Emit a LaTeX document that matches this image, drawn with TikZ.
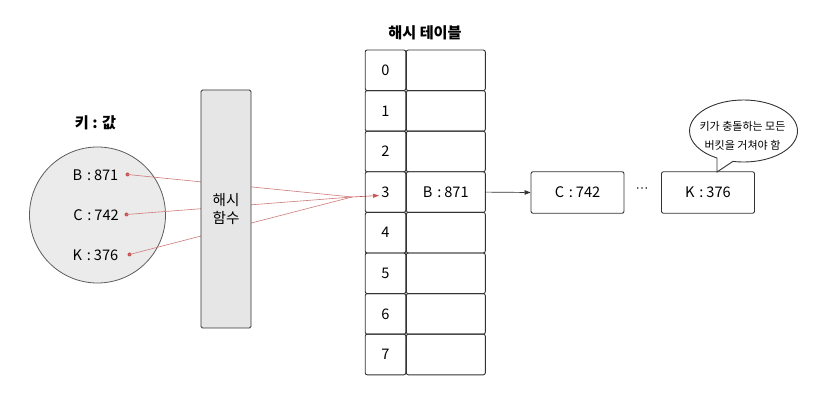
\documentclass[tikz,border=0pt]{standalone}
\usepackage{fontspec}
\setmainfont{Noto Sans CJK KR}
\newfontfamily\symfont{DejaVu Sans}
\usetikzlibrary{arrows.meta,shapes.callouts,shapes.geometric}
\definecolor{linered}{HTML}{D07A7A}
\definecolor{dotred}{HTML}{C85555}
\definecolor{boxgray}{HTML}{E6E6E6}
\definecolor{circgray}{HTML}{EBEBEB}
\definecolor{edge}{HTML}{333333}
\newcommand{\kv}[2]{#1\hspace{0.33em}:\hspace{0.2em}#2}
\tikzset{
  txt/.style={font=\fontsize{14.6}{17}\selectfont, inner sep=0pt},
  cellbox/.style={draw=edge, line width=0.9pt, rounded corners=2pt, minimum height=40.6pt, inner sep=0pt, font=\fontsize{14.6}{17}\selectfont},
  idxcell/.style={cellbox, minimum width=40.6pt},
  valcell/.style={cellbox, minimum width=79pt},
  chainbox/.style={draw=edge, line width=0.9pt, rounded corners=2pt, minimum width=93pt, minimum height=41.5pt, inner sep=0pt, font=\fontsize{14.6}{17}\selectfont},
  reddot/.style={circle, fill=dotred, inner sep=0pt, minimum size=4pt},
  redline/.style={draw=linered, line width=0.6pt},
  blackarrow/.style={draw=edge, line width=0.7pt, -{Triangle[length=6pt,width=4.5pt]}},
  titletxt/.style={font=\bfseries\fontsize{15.2}{17}\selectfont, inner sep=0pt},
}
\begin{document}
\begin{tikzpicture}[x=1pt,y=-1pt]
\useasboundingbox (0,0) rectangle (832,411);
% keys
\node[titletxt] (keytitle) at (95.5,123) {키 : 값};
\node[circle, draw=edge!80, fill=circgray, line width=0.8pt, minimum size=136pt, inner sep=0pt] (keys) at (97.5,215) {};
\node[txt] (kb) at (95.5,175) {\kv{B}{871}};
\node[txt] (kc) at (96,215) {\kv{C}{742}};
\node[txt] (kk) at (95.5,255) {\kv{K}{376}};
\node[reddot] (db) at (127.5,174.5) {};
\node[reddot] (dc) at (126.5,214.5) {};
\node[reddot] (dk) at (129.5,254.5) {};
\coordinate (conv) at (352,197);
\coordinate (tip) at (379,195.5);
\draw[redline] (db.center) -- (conv);
\draw[redline] (dc.center) -- (conv);
\draw[redline] (dk.center) -- (conv);
\draw[redline, -{Triangle[length=6pt,width=4pt]}, dotred] (conv) -- (tip);
% hash function
\node[draw=edge, fill=boxgray, line width=0.9pt, rounded corners=1.5pt, minimum width=50pt, minimum height=238pt, inner sep=0pt, align=center, font=\fontsize{14.6}{18}\selectfont] (hash) at (226,209) {해시\\함수};
% table
\node[titletxt] (tabletitle) at (425,33) {해시 테이블};
\foreach \i in {0,...,7}{
  \node[idxcell] (i\i) at (385.5,{50+40.6*(\i+0.5)}) {\i};
  \node[valcell] (v\i) at (445.8,{50+40.6*(\i+0.5)}) {};
}
\node[txt] (b871) at (v3.center) {\kv{B}{871}};
% chain
\node[chainbox] (c742) at (577.5,192.5) {\kv{C}{742}};
\node[chainbox] (k376) at (708,192.5) {\kv{K}{376}};
\node[inner sep=0pt, text=edge, font=\symfont\fontsize{13}{15}\selectfont] (dots) at (642,190.5) {⋯};
\draw[blackarrow] (v3.east) -- (c742.west);
% callout
\coordinate (tail) at (717,172);
\node[ellipse callout, draw=edge, fill=white, line width=0.9pt, minimum width=108pt, minimum height=62pt, inner sep=0pt, callout absolute pointer={(tail)}, callout pointer arc=18] (bubble) at (743.5,131) {};
\node[inner sep=0pt, align=center, font=\fontsize{11}{18.5}\selectfont] (bubbletext) at (742.5,136) {키가 충돌하는 모든\\버킷을 거쳐야 함};
\end{tikzpicture}
\end{document}
